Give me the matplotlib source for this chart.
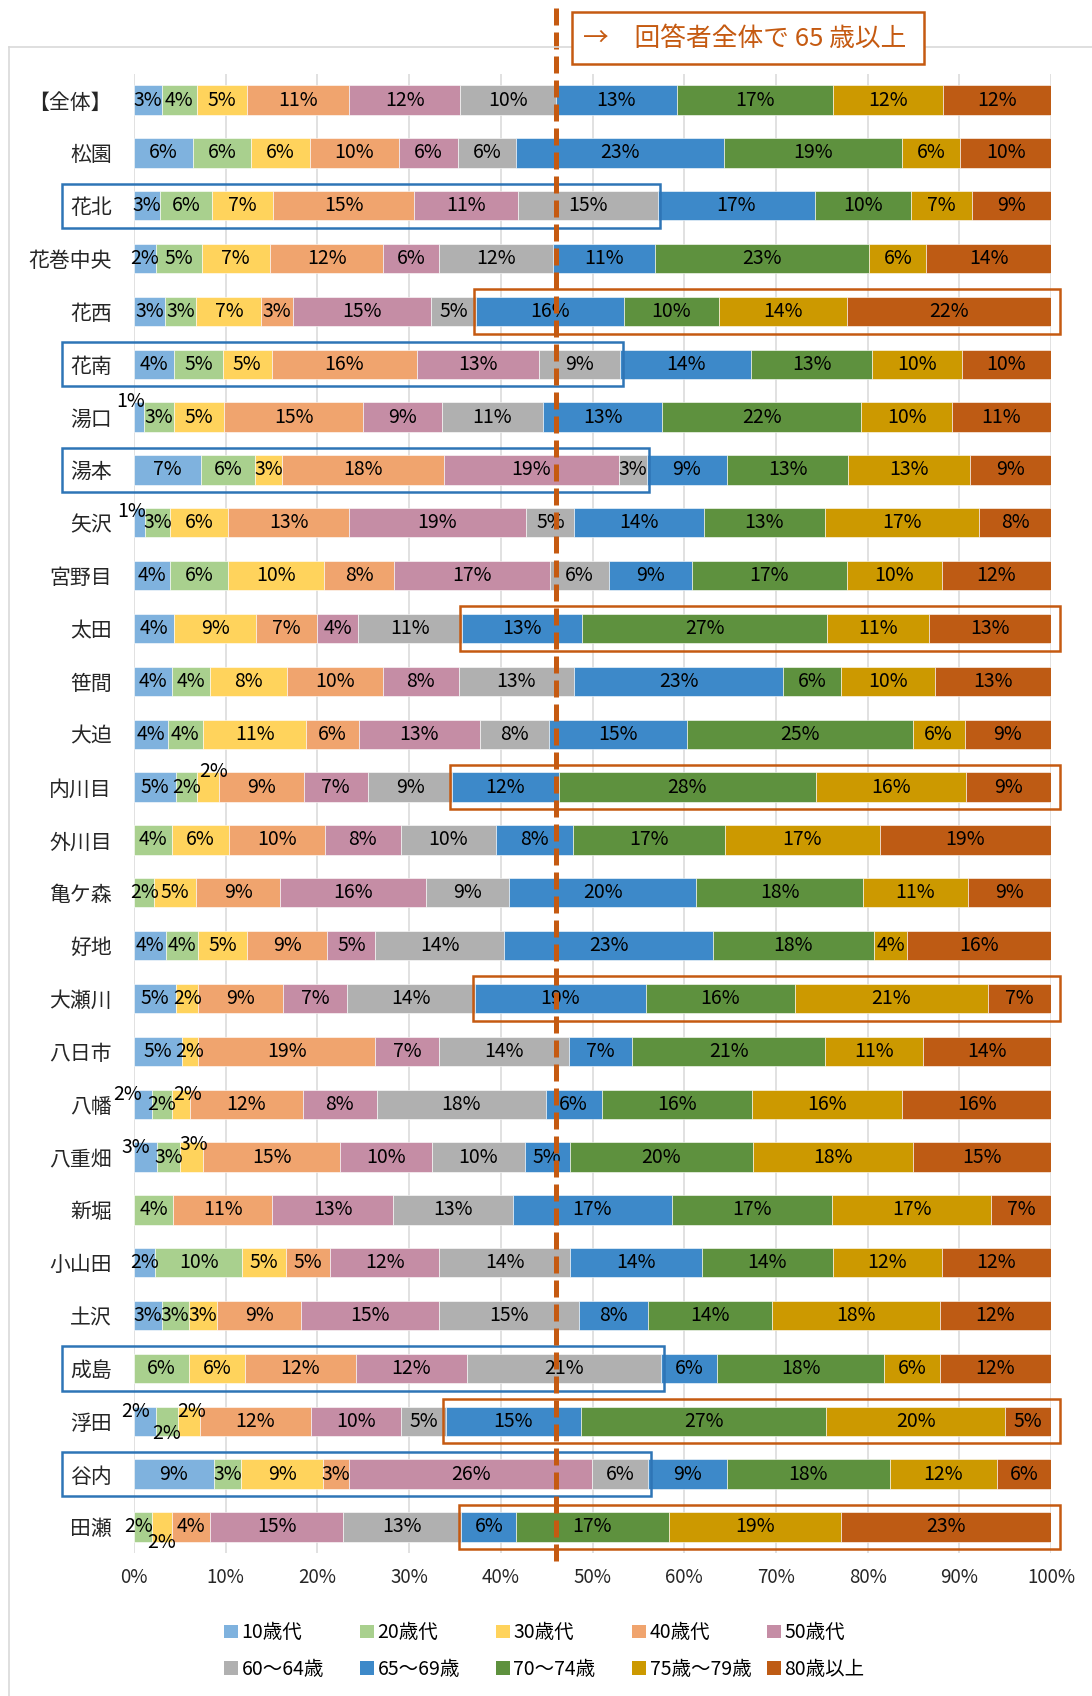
import matplotlib.pyplot as plt
import matplotlib.transforms as mtransforms
import numpy as np
from matplotlib.lines import Line2D
from matplotlib.patches import Patch, Rectangle

plt.rcParams['font.family'] = ['Noto Sans CJK JP', 'DejaVu Sans']

# 地区（上から順）
areas = ['【全体】', '松園', '花北', '花巻中央', '花西', '花南', '湯口', '湯本', '矢沢', '宮野目',
         '太田', '笹間', '大迫', '内川目', '外川目', '亀ケ森', '好地', '大瀬川', '八日市', '八幡',
         '八重畑', '新堀', '小山田', '土沢', '成島', '浮田', '谷内', '田瀬']

age_groups = ['10歳代', '20歳代', '30歳代', '40歳代', '50歳代',
              '60〜64歳', '65〜69歳', '70〜74歳', '75歳〜79歳', '80歳以上']

# 年代別の構成比（%）
s10 = [3.0, 6.4, 2.8, 2.4, 3.4, 4.4, 1.1, 7.3, 1.2, 3.9, 4.4, 4.1, 3.7, 4.6,
       0, 0, 3.5, 4.6, 5.2, 2.0, 2.5, 0, 2.3, 3.0, 0, 2.4, 8.7, 0]
s20 = [3.9, 6.4, 5.7, 5.0, 3.4, 5.3, 3.3, 5.9, 2.7, 6.4, 0, 4.2, 3.8, 2.3,
       4.1, 2.2, 3.5, 0, 0, 2.1, 2.5, 4.3, 9.5, 3.0, 6.0, 2.4, 3.0, 2.0]
s30 = [5.4, 6.4, 6.7, 7.4, 7.1, 5.3, 5.4, 2.9, 6.4, 10.4, 8.9, 8.4, 11.3, 2.4,
       6.3, 4.6, 5.3, 2.4, 1.8, 2.0, 2.5, 0, 4.8, 3.1, 6.1, 2.4, 8.9, 2.1]
s40 = [11.2, 9.7, 15.3, 12.4, 3.4, 15.9, 15.2, 17.7, 13.1, 7.7, 6.7, 10.4, 5.7, 9.2,
       10.4, 9.1, 8.8, 9.3, 19.3, 12.3, 15.0, 10.8, 4.8, 9.1, 12.1, 12.1, 2.9, 4.2]
s50 = [12.1, 6.4, 11.4, 6.1, 15.1, 13.3, 8.6, 19.1, 19.4, 17.0, 4.4, 8.3, 13.2, 7.0,
       8.3, 15.9, 5.2, 6.9, 7.0, 8.1, 10.0, 13.1, 11.9, 15.1, 12.1, 9.8, 26.4, 14.5]
s60_64 = [10.4, 6.4, 15.2, 12.4, 4.9, 8.8, 11.0, 3.0, 5.2, 6.4, 11.4, 12.6, 7.6, 9.2,
          10.4, 9.1, 14.1, 14.0, 14.1, 18.4, 10.1, 13.1, 14.3, 15.2, 21.2, 4.9, 6.2, 12.9]
s65_69 = [13.2, 22.6, 17.2, 11.1, 16.1, 14.3, 13.0, 8.8, 14.2, 9.0, 13.1, 22.8, 15.0, 11.6,
          8.4, 20.4, 22.7, 18.6, 6.9, 6.1, 4.9, 17.4, 14.3, 7.5, 6.1, 14.7, 8.6, 6.0]
s70_74 = [17.0, 19.4, 10.4, 23.4, 10.4, 13.2, 21.7, 13.2, 13.1, 16.9, 26.7, 6.3, 24.6, 28.1,
          16.6, 18.2, 17.6, 16.3, 21.1, 16.4, 20.0, 17.4, 14.3, 13.6, 18.2, 26.8, 17.7, 16.6]
s75_79 = [12.0, 6.4, 6.7, 6.2, 14.0, 9.8, 9.9, 13.3, 16.9, 10.4, 11.1, 10.3, 5.7, 16.3,
          16.8, 11.4, 3.6, 21.0, 10.6, 16.4, 17.5, 17.4, 11.9, 18.3, 6.1, 19.5, 11.7, 18.8]
s80 = [11.8, 9.9, 8.6, 13.6, 22.2, 9.7, 10.8, 8.8, 7.8, 11.9, 13.3, 12.6, 9.4, 9.3,
       18.7, 9.1, 15.7, 6.9, 14.0, 16.2, 15.0, 6.5, 11.9, 12.1, 12.1, 5.0, 5.9, 22.9]

# 枠で囲む地区
blue_rows = ['花北', '花南', '湯本', '成島', '谷内']
orange_rows = ['花西', '太田', '内川目', '大瀬川', '浮田', '田瀬']

colors = ['#7FB2DE', '#A9D08E', '#FFD35C', '#F0A46E', '#C58DA5',
          '#B0B0B0', '#3D89C9', '#5E913E', '#CC9900', '#BE5B14']

# 小さい値のラベル位置の調整（points）
nudge = {('湯口', 0): (-6, 11), ('矢沢', 0): (-6, 8), ('内川目', 2): (4, 11),
         ('八幡', 0): (-11, 7), ('八幡', 2): (5, 7),
         ('八重畑', 0): (-7, 7), ('八重畑', 2): (2, 9),
         ('浮田', 0): (-7, 7), ('浮田', 1): (0, -9), ('浮田', 2): (2, 7),
         ('田瀬', 1): (-3, 0), ('田瀬', 2): (0, -11)}

W, H = 1092, 1696
ORANGE = '#C55A11'
BLUE = '#2E75B6'

fig = plt.figure(figsize=(W / 100, H / 100), dpi=100)
ax = fig.add_axes([134 / W, 1 - 1553.4 / H, 917 / W, 1479.8 / H])

data = np.array([s10, s20, s30, s40, s50, s60_64, s65_69, s70_74, s75_79, s80])
n = len(areas)
y = np.arange(n)
left = np.zeros(n)
for j, vals in enumerate(data):
    ax.barh(y, vals, left=left, height=0.555, color=colors[j],
            edgecolor='white', linewidth=0.4, zorder=2)
    for i, v in enumerate(vals):
        if v <= 0:
            continue
        dx, dy = nudge.get((areas[i], j), (0, 0))
        ax.annotate(f'{int(v + 0.5)}%', (left[i] + v / 2, i), xytext=(dx, dy),
                    textcoords='offset points', ha='center', va='center',
                    fontsize=14, color='black', zorder=4, annotation_clip=False)
    left += vals

ax.set_xlim(0, 100)
ax.set_ylim(n - 0.5, -0.5)
ax.set_xticks(range(0, 101, 10), [f'{t}%' for t in range(0, 101, 10)])
ax.set_yticks(y, areas)
ax.tick_params(axis='y', length=0, pad=16, labelsize=15, labelcolor='#262626')
ax.tick_params(axis='x', length=0, pad=10, labelsize=13.5, labelcolor='#262626')
ax.grid(axis='x', color='#D9D9D9', linewidth=1.1)
ax.set_axisbelow(True)
for s in ax.spines.values():
    s.set_visible(False)

# 回答者全体の65歳境界（破線）
under65 = data[:6].sum(axis=0)
trans = mtransforms.blended_transform_factory(ax.transData, fig.transFigure)
ax.plot([under65[0], under65[0]], [1 - 8 / H, 1 - 1561 / H], transform=trans,
        color=ORANGE, linewidth=3.6, dashes=(3.4, 1.4), clip_on=False, zorder=6)

# 強調枠
for name in blue_rows:
    i = areas.index(name)
    ax.add_patch(Rectangle((-7.85, i - 0.42), under65[i] + 0.3 + 7.85, 0.84, fill=False,
                           edgecolor=BLUE, linewidth=1.8, clip_on=False, zorder=5))
for name in orange_rows:
    i = areas.index(name)
    ax.add_patch(Rectangle((under65[i] - 0.25, i - 0.42), 100.95 - under65[i] + 0.25, 0.84,
                           fill=False, edgecolor=ORANGE, linewidth=1.8, clip_on=False, zorder=5))

# グラフエリアの枠
fig.add_artist(Line2D([8.5 / W, 8.5 / W], [0, 1 - 46.7 / H], color='#D9D9D9', linewidth=1.2))
fig.add_artist(Line2D([8.5 / W, 1], [1 - 46.7 / H, 1 - 46.7 / H], color='#D9D9D9', linewidth=1.2))

# テキストボックス
fig.add_artist(Rectangle((571.7 / W, 1 - 64 / H), 352.3 / W, 52.3 / H, transform=fig.transFigure,
                         facecolor='white', edgecolor=ORANGE, linewidth=1.8, zorder=7))
fig.text(583 / W, 1 - 39 / H, '→　回答者全体で 65 歳以上', color=ORANGE, fontsize=18.5,
         ha='left', va='center', zorder=8)

# 凡例（5列）
handles = [Patch(facecolor=c) for c in colors]
col_x = [224, 360, 496, 632, 767]
for k, x in enumerate(col_x):
    fig.legend([handles[k], handles[k + 5]], [age_groups[k], age_groups[k + 5]],
               loc='center left', bbox_to_anchor=(x / W, 1 - 1651 / H), frameon=False,
               fontsize=14, handlelength=0.7, handleheight=0.7, handletextpad=0.2,
               labelspacing=0.8, borderpad=0, borderaxespad=0)

fig.savefig('out.png', dpi=100)
